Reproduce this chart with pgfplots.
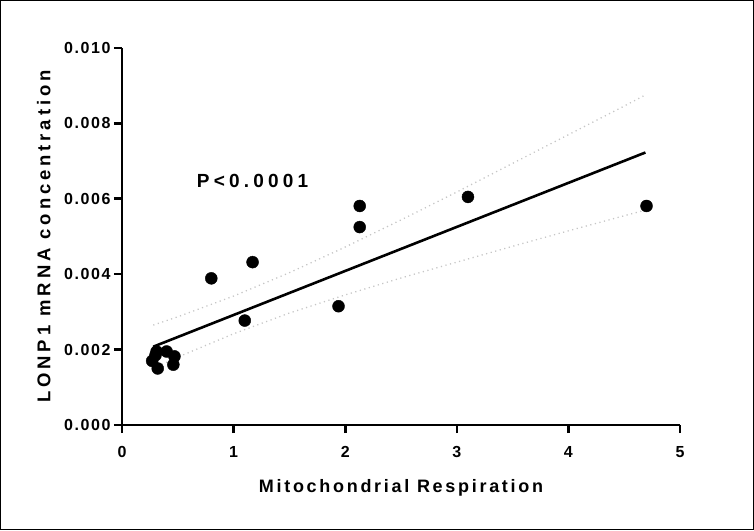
\documentclass[border=0pt]{standalone}
\usepackage{fontspec}
\setmainfont{Liberation Sans}
\newfontfamily\tickfont{Liberation Sans}[LetterSpace=10]
\newfontfamily\xlabfont{Liberation Sans}[LetterSpace=15]
\newfontfamily\ylabfont{Liberation Sans}[LetterSpace=21]
\newfontfamily\pfont{Liberation Sans}[LetterSpace=22]
\usepackage{pgfplots}
\pgfplotsset{compat=1.18}
\begin{document}
\begin{tikzpicture}
\useasboundingbox (0,0) rectangle (754pt,530pt);
\draw[line width=1pt] (0.5pt,0.5pt) rectangle (753.5pt,529.5pt);
\begin{axis}[
  at={(122pt,105pt)}, anchor=origin,
  scale only axis, width=558pt, height=377pt,
  xmin=0, xmax=5, ymin=0, ymax=0.010,
  axis lines=left,
  axis line style={line width=2.6pt, -},
  tick style={line width=2.6pt, black},
  tick align=outside,
  major tick length=8pt,
  xtick={0,1,2,3,4,5},
  ytick={0,0.002,0.004,0.006,0.008,0.010},
  scaled y ticks=false,
  /pgf/number format/assume math mode=true,
  yticklabel style={/pgf/number format/fixed, /pgf/number format/precision=3, /pgf/number format/fixed zerofill, font=\tickfont\bfseries\fontsize{16}{18}\selectfont},
  xticklabel style={font=\tickfont\bfseries\fontsize{16}{18}\selectfont, yshift=-10pt},
  xlabel={Mitochondrial Respiration},
  ylabel={LONP1 mRNA concentration},
  xlabel style={font=\xlabfont\bfseries\fontsize{18}{21}\selectfont, at={(axis description cs:0.5,-0.167)}, anchor=center},
  ylabel style={font=\ylabfont\bfseries\fontsize{18.5}{21}\selectfont, at={(axis description cs:-0.14,0.5)}, anchor=center},
  clip=false,
]
\addplot[gray!45, line width=1.3pt, dash pattern=on 1.2pt off 3.5pt] coordinates {
 (0.28,0.00265) (0.5,0.00287) (1.0,0.00342) (1.5,0.00404) (2.0,0.00472) (2.5,0.00544)
 (3.0,0.00618) (3.5,0.00694) (4.0,0.00770) (4.5,0.00846) (4.7,0.00877)};
\addplot[gray!45, line width=1.3pt, dash pattern=on 1.2pt off 3.5pt] coordinates {
 (0.28,0.00150) (0.5,0.00180) (1.0,0.00242) (1.5,0.00297) (2.0,0.00345) (2.5,0.00390)
 (3.0,0.00432) (3.5,0.00474) (4.0,0.00515) (4.5,0.00555) (4.7,0.00571)};
\addplot[black, line width=2.6pt] coordinates {(0.28,0.002077) (4.69,0.007228)};
\addplot[only marks, mark=*, mark size=6pt, black] coordinates {
 (0.27,0.00170) (0.30,0.00185) (0.31,0.00195) (0.32,0.00150) (0.40,0.00195)
 (0.47,0.00182) (0.46,0.00160) (0.80,0.00389) (1.17,0.00432) (1.10,0.00277)
 (1.94,0.00315) (2.13,0.00581) (2.13,0.00525) (3.10,0.00605) (4.70,0.00581)};
\node[anchor=west, font=\pfont\bfseries\fontsize{19}{22}\selectfont, inner sep=0pt] at (axis cs:0.67,0.00648) {P<0.0001};
\end{axis}
\end{tikzpicture}
\end{document}
